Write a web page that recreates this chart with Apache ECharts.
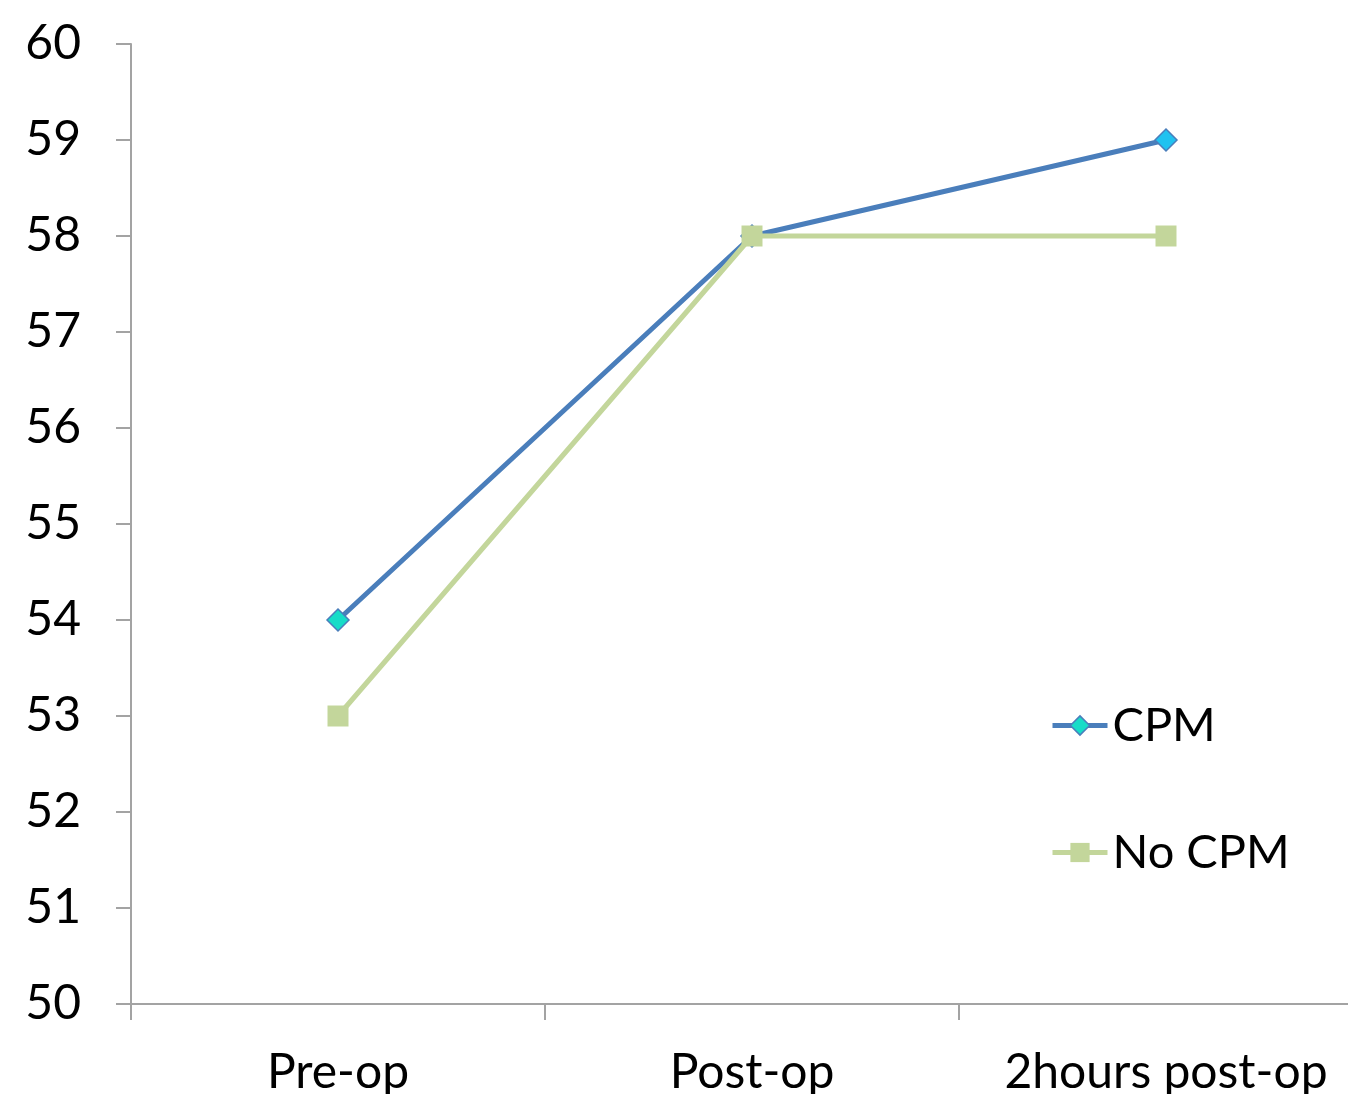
<!DOCTYPE html>
<html>
<head>
<meta charset="utf-8">
<script src="https://cdn.jsdelivr.net/npm/echarts@6/dist/echarts.min.js"></script>
<style>html,body{margin:0;padding:0;background:#fff;overflow:hidden}#c{width:1373px;height:1094px}</style>
</head>
<body>
<div id="c"></div>
<script>
const categories = ['Pre-op', 'Post-op', '2hours post-op'];
const cpmValues = [54, 58, 59];
const noCpmValues = [53, 58, 58];
const cpmMarkerColors = ['#17dcc8', '#1ad0dc', '#20c2f0'];
const yMin = 50, yMax = 60, yStep = 1;

const FONT = 'Lato';
const axisGray = '#a3a3a3';
const chart = echarts.init(document.getElementById('c'), null, {renderer: 'canvas'});
chart.setOption({
  animation: false,
  backgroundColor: '#fff',
  textStyle: {fontFamily: FONT},
  grid: {left: 131, top: 44, bottom: 90, right: 0, containLabel: false, outerBoundsMode: 'none'},
  legend: {
    orient: 'vertical',
    left: 1045,
    top: 697,
    itemWidth: 55,
    itemHeight: 24,
    itemGap: 80,
    textStyle: {fontFamily: FONT, fontSize: 47, color: '#000'},
    data: [
      {name: 'CPM', itemStyle: {color: '#17dcc8', borderColor: '#4a7ebb', borderWidth: 1.5}, lineStyle: {color: '#4a7ebb', width: 5}},
      {name: 'No CPM', itemStyle: {color: '#c3d69b'}, lineStyle: {color: '#c3d69b', width: 5}}
    ]
  },
  xAxis: {
    type: 'category',
    data: categories,
    boundaryGap: true,
    axisLine: {show: true, lineStyle: {color: axisGray, width: 2}},
    axisTick: {show: true, interval: 0, length: 16, lineStyle: {color: axisGray, width: 2}},
    axisLabel: {interval: 0, hideOverlap: false, fontFamily: FONT, fontSize: 48, color: '#000', margin: 45},
    splitLine: {show: false}
  },
  yAxis: {
    type: 'value',
    min: yMin, max: yMax, interval: yStep,
    axisLine: {show: true, lineStyle: {color: axisGray, width: 2}},
    axisTick: {show: true, length: 15, lineStyle: {color: axisGray, width: 2}},
    axisLabel: {fontFamily: FONT, fontSize: 48, color: '#000', margin: 50},
    splitLine: {show: false}
  },
  series: [
    {
      name: 'CPM', type: 'line', data: cpmValues.map((v, i) => ({value: v, itemStyle: {color: cpmMarkerColors[i]}})),
      symbol: 'diamond', symbolSize: 22, showAllSymbol: true,
      lineStyle: {color: '#4a7ebb', width: 5},
      itemStyle: {color: '#17dcc8', borderColor: '#4a7ebb', borderWidth: 1.5},
      z: 2
    },
    {
      name: 'No CPM', type: 'line', data: noCpmValues,
      symbol: 'rect', symbolSize: 21, showAllSymbol: true,
      lineStyle: {color: '#c3d69b', width: 5},
      itemStyle: {color: '#c3d69b', borderWidth: 0},
      z: 3
    }
  ]
});
</script>
</body>
</html>
